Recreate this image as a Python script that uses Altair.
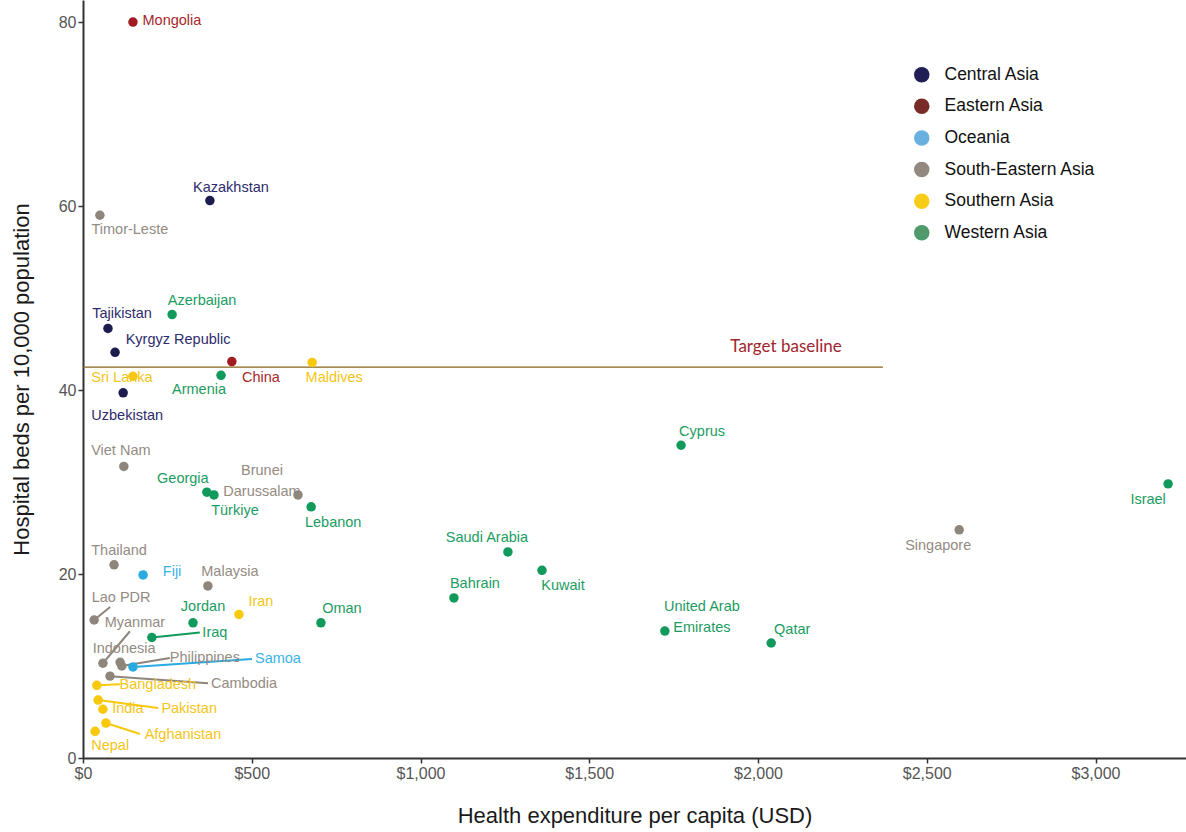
import altair as alt
import pandas as pd

# ---- data -------------------------------------------------------------
countries = [
    "Mongolia", "Kazakhstan", "Timor-Leste", "Tajikistan", "Azerbaijan",
    "Kyrgyz Republic", "China", "Maldives", "Sri Lanka", "Armenia",
    "Uzbekistan", "Cyprus", "Viet Nam", "Georgia", "Türkiye",
    "Brunei\nDarussalam", "Lebanon", "Israel", "Singapore", "Saudi Arabia",
    "Kuwait", "Bahrain", "Thailand", "Fiji", "Malaysia",
    "Lao PDR", "Myanmar", "Jordan", "Iran", "Oman",
    "United Arab\nEmirates", "Qatar", "Iraq", "Indonesia", "Philippines",
    "Samoa", "Bangladesh", "Cambodia", "India", "Pakistan",
    "Afghanistan", "Nepal",
]
regions = [
    "Eastern Asia", "Central Asia", "South-Eastern Asia", "Central Asia", "Western Asia",
    "Central Asia", "Eastern Asia", "Southern Asia", "Southern Asia", "Western Asia",
    "Central Asia", "Western Asia", "South-Eastern Asia", "Western Asia", "Western Asia",
    "South-Eastern Asia", "Western Asia", "Western Asia", "South-Eastern Asia", "Western Asia",
    "Western Asia", "Western Asia", "South-Eastern Asia", "Oceania", "South-Eastern Asia",
    "South-Eastern Asia", "South-Eastern Asia", "Western Asia", "Southern Asia", "Western Asia",
    "Western Asia", "Western Asia", "Western Asia", "South-Eastern Asia", "South-Eastern Asia",
    "Oceania", "Southern Asia", "South-Eastern Asia", "Southern Asia", "Southern Asia",
    "Southern Asia", "Southern Asia",
]
# health expenditure per capita, USD
spend = [
    148, 376, 50, 74, 264,
    95, 441, 679, 148, 409,
    119, 1772, 121, 367, 388,
    637, 676, 3215, 2596, 1259,
    1360, 1099, 92, 178, 370,
    33, 59, 326, 462, 705,
    1724, 2039, 204, 110, 115,
    148, 41, 80, 59, 45,
    68, 36,
]
# hospital beds per 10,000 population
beds = [
    80.0, 60.6, 59.0, 46.7, 48.2,
    44.1, 43.1, 43.0, 41.5, 41.6,
    39.7, 34.0, 31.7, 28.9, 28.6,
    28.6, 27.3, 29.8, 24.8, 22.4,
    20.4, 17.4, 21.0, 19.9, 18.7,
    15.0, 10.3, 14.7, 15.6, 14.7,
    13.8, 12.5, 13.1, 10.4, 10.0,
    9.9, 7.9, 8.9, 5.3, 6.3,
    3.8, 2.9,
]

region_order = ["Central Asia", "Eastern Asia", "Oceania",
                "South-Eastern Asia", "Southern Asia", "Western Asia"]
point_colors = ["#1c1c4e", "#a01c22", "#29abe2", "#8e857c", "#f8c80a", "#119a5c"]
text_colors = ["#2e2c6c", "#a8272b", "#3ab4e6", "#948b83", "#f5c518", "#1c9c62"]
legend_colors = ["#201e55", "#7b2b27", "#68b0de", "#918980", "#f8cd1a", "#4f9a6b"]

target_value = 42.5
target_end = 2370

x_ticks = [0, 500, 1000, 1500, 2000, 2500, 3000]
y_ticks = [0, 20, 40, 60, 80]

# ---- layout -----------------------------------------------------------
W, H = 1103, 758
X_MAX, Y_MAX = 3268, 82.4
UX, UY = X_MAX / W, Y_MAX / H  # data units per pixel

# label centre offset from its point, in pixels
label_offset = {
    "Mongolia": (39, -1), "Kazakhstan": (21, -13), "Timor-Leste": (30, 15),
    "Tajikistan": (14, -14), "Azerbaijan": (30, -14), "Kyrgyz Republic": (63, -12),
    "China": (29, 16), "Maldives": (22, 16), "Sri Lanka": (-11, 2),
    "Armenia": (-22, 15), "Uzbekistan": (4, 23), "Cyprus": (21, -13),
    "Viet Nam": (-3, -15), "Georgia": (-24, -13), "Türkiye": (21, 16),
    "Brunei\nDarussalam": (-36, -24), "Lebanon": (22, 16), "Israel": (-20, 16),
    "Singapore": (-21, 16), "Saudi Arabia": (-21, -14), "Kuwait": (21, 16),
    "Bahrain": (21, -14), "Thailand": (5, -14), "Fiji": (29, -3),
    "Malaysia": (22, -14), "Lao PDR": (27, -22), "Myanmar": (32, -40),
    "Jordan": (10, -16), "Iran": (22, -12), "Oman": (21, -14),
    "United Arab\nEmirates": (37, -24), "Qatar": (21, -13), "Iraq": (63, -4),
    "Indonesia": (4, -13), "Philippines": (83, -8), "Samoa": (145, -8),
    "Bangladesh": (61, 0), "Cambodia": (134, 8), "India": (25, 0),
    "Pakistan": (91, 9), "Afghanistan": (77, 12), "Nepal": (15, 15),
}
# leader line end offset from its point, in pixels
leader_end = {
    "Lao PDR": (16, -13), "Myanmar": (27, -32), "Iraq": (48, -5),
    "Philippines": (48, -8), "Samoa": (119, -8), "Bangladesh": (23, -1),
    "Cambodia": (98, 7), "Pakistan": (60, 8), "Afghanistan": (34, 11),
}

df = pd.DataFrame({"country": countries, "region": regions,
                   "spend": spend, "beds": beds})
df["lx"] = [s + label_offset[c][0] * UX for c, s in zip(countries, spend)]
df["ly"] = [b - label_offset[c][1] * UY for c, b in zip(countries, beds)]

lead = df[df["country"].isin(leader_end)].copy()
lead["ex"] = [s + leader_end[c][0] * UX for c, s in zip(lead["country"], lead["spend"])]
lead["ey"] = [b - leader_end[c][1] * UY for c, b in zip(lead["country"], lead["beds"])]

FONT = "Liberation Sans"

x_scale = alt.Scale(domain=[0, X_MAX], nice=False, zero=True)
y_scale = alt.Scale(domain=[0, Y_MAX], nice=False, zero=True)
pt_color = alt.Color("region:N", scale=alt.Scale(domain=region_order, range=point_colors),
                     legend=None)
txt_color = alt.Color("region:N", scale=alt.Scale(domain=region_order, range=text_colors),
                      legend=None)

x_axis = alt.Axis(values=x_ticks, format="$,d", title="Health expenditure per capita (USD)",
                  titlePadding=24, labelFlush=False)
y_axis = alt.Axis(values=y_ticks, format="d", title="Hospital beds per 10,000 population",
                  titlePadding=25, labelFlush=False)

base = alt.Chart(df)

# invisible layer carrying the region legend
legend_layer = base.mark_circle(opacity=0).encode(
    x=alt.X("spend:Q", scale=x_scale, axis=x_axis),
    y=alt.Y("beds:Q", scale=y_scale, axis=y_axis),
    color=alt.Color(
        "region:N",
        scale=alt.Scale(domain=region_order, range=legend_colors),
        legend=alt.Legend(
            title=None, orient="none", legendX=830, legendY=66, padding=0,
            symbolType="circle", symbolSize=240, symbolOpacity=1, symbolStrokeWidth=0,
            labelFont=FONT, labelFontSize=17.5, labelColor="#111111",
            labelOffset=14, rowPadding=12.6,
        ),
    ),
)

target = pd.DataFrame({"y": [target_value], "x0": [0], "x1": [target_end],
                       "label": ["Target baseline"]})
target_line = alt.Chart(target).mark_rule(color="#85651a", strokeWidth=1.3).encode(
    x=alt.X("x0:Q", scale=x_scale), x2="x1:Q", y=alt.Y("y:Q", scale=y_scale)
)
target_text = alt.Chart(target).transform_calculate(
    xm="datum.x1 - 287"
).mark_text(font="Lato", fontSize=17, color="#a0262e", dy=-20, align="center").encode(
    x=alt.X("xm:Q", scale=x_scale), y=alt.Y("y:Q", scale=y_scale), text="label:N"
)

leaders = alt.Chart(lead).mark_rule(strokeWidth=2).encode(
    x=alt.X("spend:Q", scale=x_scale), y=alt.Y("beds:Q", scale=y_scale),
    x2="ex:Q", y2="ey:Q", color=pt_color,
)

points = base.mark_circle(size=90, opacity=1).encode(
    x=alt.X("spend:Q", scale=x_scale), y=alt.Y("beds:Q", scale=y_scale), color=pt_color
)

labels = base.mark_text(font=FONT, fontSize=14.5, align="center", baseline="middle",
                        lineBreak="\n", lineHeight=21).encode(
    x=alt.X("lx:Q", scale=x_scale), y=alt.Y("ly:Q", scale=y_scale),
    text="country:N", color=txt_color,
)

chart = alt.layer(
    legend_layer, target_line, target_text, leaders, points, labels
).resolve_scale(color="independent").properties(
    width=W, height=H, autosize=alt.AutoSizeParams(type="none"),
    padding={"left": 83, "top": 0, "right": 0, "bottom": 74},
).configure_view(stroke=None).configure_axis(
    grid=False, domainColor="#333333", domainWidth=2, tickColor="#333333",
    tickWidth=1.5, tickSize=5, labelPadding=2, labelFont=FONT, labelFontSize=16,
    labelColor="#555555", titleFont=FONT, titleFontSize=22, titleFontWeight="normal",
    titleColor="#1a1a1a",
)

chart.save("out.html", embed_options={"renderer": "svg", "actions": False})
